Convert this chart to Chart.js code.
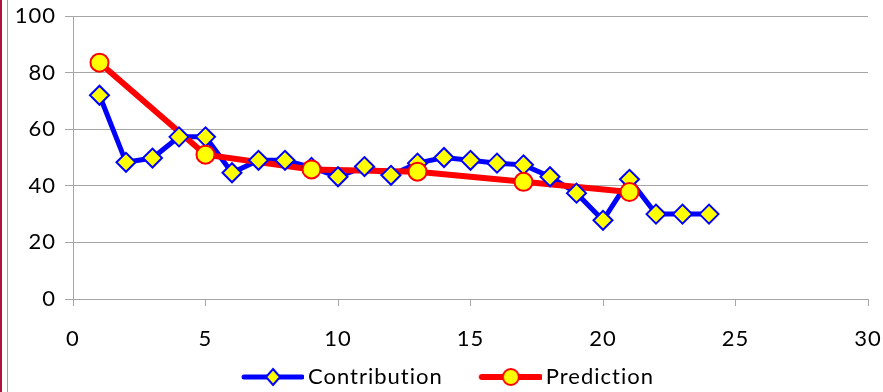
<!DOCTYPE html>
<html>
<head>
<meta charset="utf-8">
<script src="https://cdn.jsdelivr.net/npm/chart.js@4/dist/chart.umd.min.js"></script>
<style>
  html, body { margin: 0; padding: 0; background: #fff; }
  #wrap { position: relative; width: 883px; height: 392px; }
  #edge { position: absolute; left: 0; top: 0; width: 2px; height: 392px; background: #b0123f; }
  #frame { position: absolute; left: 7px; top: 0; width: 1px; height: 392px; background: #a0a0a0; }
  canvas { position: absolute; left: 0; top: 0; }
</style>
</head>
<body>
<div id="wrap">
  <div id="edge"></div>
  <div id="frame"></div>
  <canvas id="chart" width="883" height="392"></canvas>
</div>
<script>
"use strict";

const contribX = [1, 2, 3, 4, 5, 6, 7, 8, 9, 10, 11, 12, 13, 14, 15, 16, 17, 18, 19, 20, 21, 22, 23, 24];
const contribY = [72, 48.3, 49.8, 57.3, 57.3, 44.6, 49, 49, 46.5, 43.2, 46.8, 43.7, 48, 50, 49, 48, 47.4, 43.2, 37.4, 27.8, 42.3, 30, 30, 30];
const predX = [1, 5, 9, 13, 17, 21];
const predY = [83.5, 51, 45.8, 45, 41.4, 37.8];

const FONT = "Lato";
const BLUE = "#0000ff";
const RED = "#ff0000";
const YELLOW = "#ffff00";
const GRID = "#a6a6a6";

function pts(xs, ys) { return xs.map((x, i) => ({ x, y: ys[i] })); }

// legend icon: short line with the marker in the middle.
// blank strip on the left widens the gap between the two legend entries
function legendIcon(color, lineW, shape) {
  const off = 28;
  const c = document.createElement("canvas");
  c.width = off + 62; c.height = 20;
  const g = c.getContext("2d");
  g.strokeStyle = color; g.lineWidth = lineW; g.lineCap = "round";
  g.beginPath(); g.moveTo(off + 2, 10); g.lineTo(off + 60, 10); g.stroke();
  g.fillStyle = YELLOW; g.strokeStyle = color; g.lineWidth = 2;
  g.beginPath();
  if (shape === "diamond") {
    const cx = off + 31;
    g.moveTo(cx, 2); g.lineTo(cx + 7, 10); g.lineTo(cx, 18); g.lineTo(cx - 7, 10); g.closePath();
  } else {
    g.arc(off + 31, 10, 8, 0, Math.PI * 2);
  }
  g.fill(); g.stroke();
  return c;
}

const iconBlue = legendIcon(BLUE, 5, "diamond");
const iconRed = legendIcon(RED, 6, "circle");

// the original text is a bit wider than any installed font
const spacing = {
  id: "spacing",
  beforeUpdate(chart) { chart.ctx.letterSpacing = "1px"; },
  beforeDraw(chart) { chart.ctx.letterSpacing = "1px"; }
};

new Chart(document.getElementById("chart"), {
  type: "scatter",
  plugins: [spacing],
  data: {
    datasets: [
      { label: "Contribution", data: pts(contribX, contribY), showLine: true,
        borderColor: BLUE, borderWidth: 5, pointRadius: 0, order: 4 },
      { label: "Prediction", data: pts(predX, predY), showLine: true,
        borderColor: RED, borderWidth: 6, pointRadius: 0, order: 3 },
      { label: "Contribution", data: pts(contribX, contribY), showLine: false,
        pointStyle: "rectRot", pointRadius: 9.5, pointBackgroundColor: YELLOW,
        pointBorderColor: BLUE, pointBorderWidth: 2, order: 2 },
      { label: "Prediction", data: pts(predX, predY), showLine: false,
        pointStyle: "circle", pointRadius: 9, pointBackgroundColor: YELLOW,
        pointBorderColor: RED, pointBorderWidth: 2, order: 1 },
    ]
  },
  options: {
    responsive: false,
    animation: false,
    layout: { padding: { left: 7, right: 15, top: 16, bottom: -6 } },
    plugins: {
      tooltip: { enabled: false },
      legend: {
        position: "bottom",
        labels: {
          usePointStyle: true,
          pointStyleWidth: 76,
          padding: 16,
          color: "#000",
          font: { family: FONT, size: 22 },
          generateLabels: () => [
            { text: "Contribution", pointStyle: iconBlue, fillStyle: YELLOW, strokeStyle: BLUE, lineWidth: 0, datasetIndex: 0, fontColor: "#000" },
            { text: "Prediction", pointStyle: iconRed, fillStyle: YELLOW, strokeStyle: RED, lineWidth: 0, datasetIndex: 1, fontColor: "#000" },
          ]
        }
      }
    },
    scales: {
      x: {
        type: "linear", min: 0, max: 30,
        ticks: { stepSize: 5, color: "#000", padding: 20, font: { family: FONT, size: 22 } },
        grid: { drawOnChartArea: false, color: GRID, tickLength: 7 },
        border: { color: GRID },
        afterFit: (s) => { s.height = 51; s.paddingLeft = 0; s.paddingRight = 12; }
      },
      y: {
        min: 0, max: 100,
        ticks: { stepSize: 20, color: "#000", padding: 9, font: { family: FONT, size: 22 } },
        grid: { color: GRID, tickLength: 8 },
        border: { color: GRID },
        afterFit: (s) => { s.width = 66; s.paddingTop = 0; s.paddingBottom = 0; }
      }
    }
  }
});
</script>
</body>
</html>
